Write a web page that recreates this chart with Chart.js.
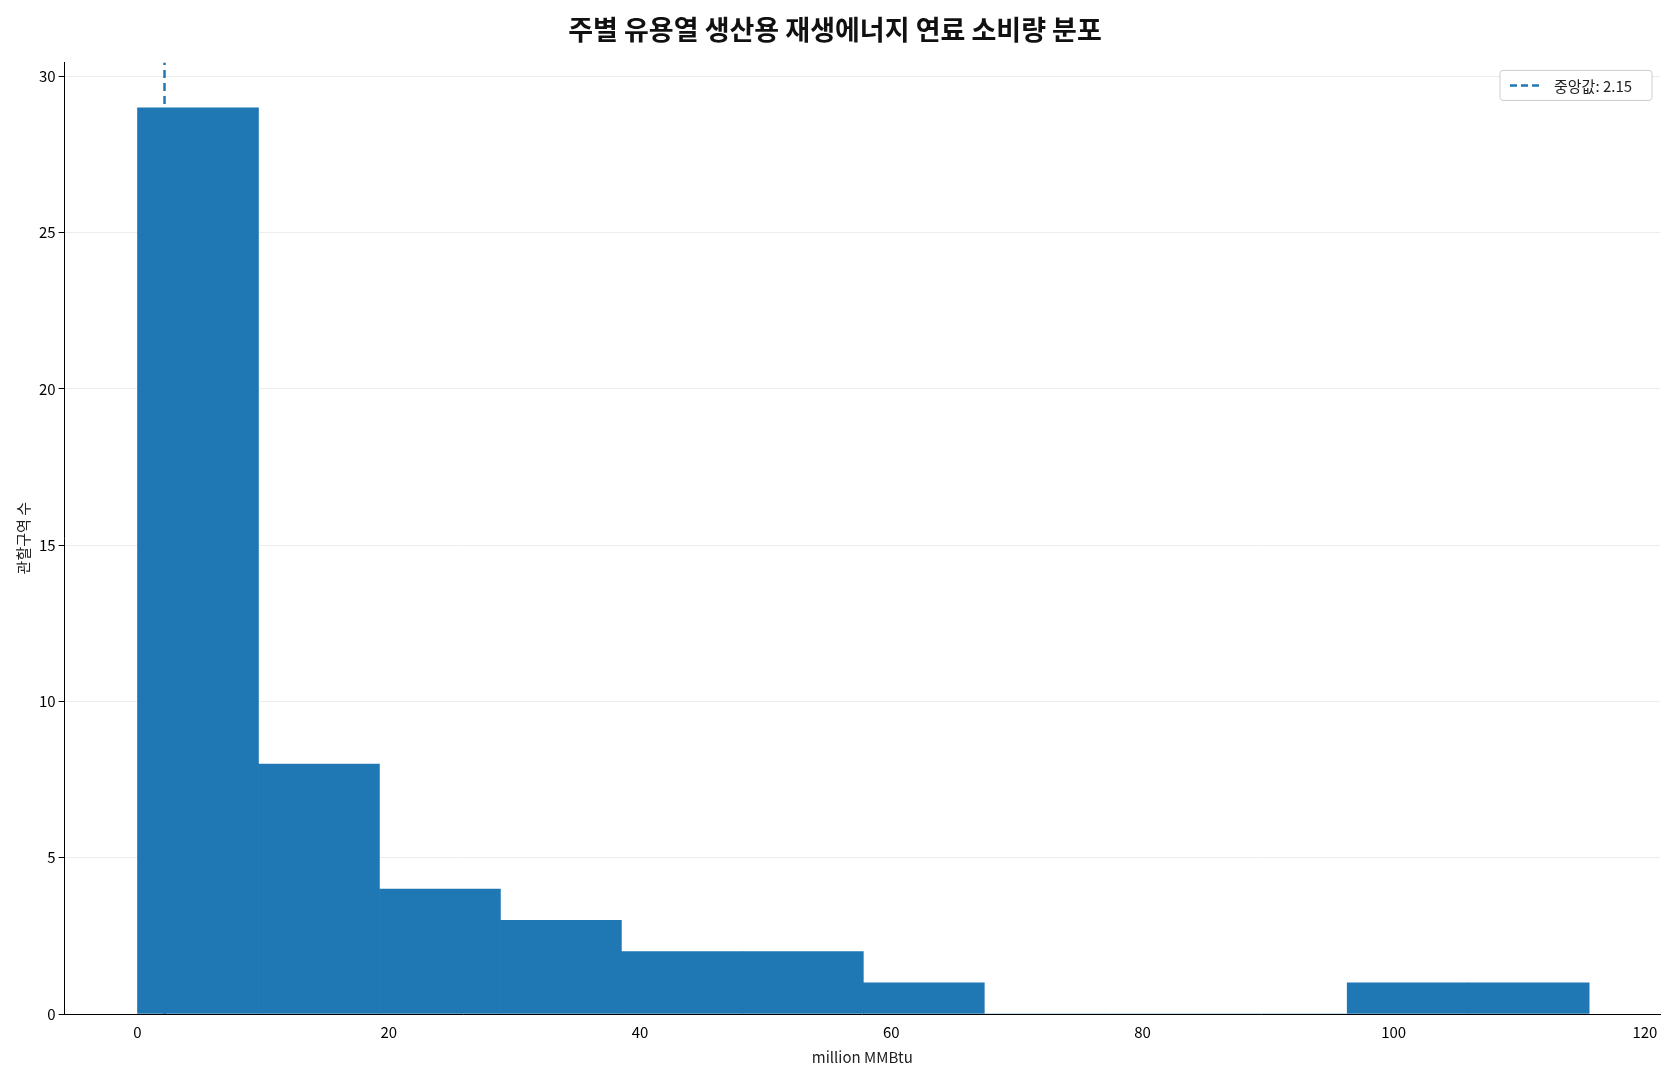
<!DOCTYPE html>
<html><head><meta charset="utf-8">
<script src="https://cdn.jsdelivr.net/npm/chart.js@4/dist/chart.umd.min.js"></script>
<style>html,body{margin:0;background:#fff}#w{width:1680px;height:1080px}</style>
</head><body><div id="w"><canvas id="c"></canvas></div>
<script>
const binEdges=[0,9.63,19.26,28.89,38.52,48.15,57.78,67.41,77.04,86.67,96.3,105.93,115.56];
const counts=[29,8,4,3,2,2,1,0,0,0,1,1];
const medianValue=2.15;
const titleText='주별 유용열 생산용 재생에너지 연료 소비량 분포';
const xLabel='million MMBtu';
const yLabel='관할구역 수';
const FONT='"Noto Sans CJK KR","Noto Sans",sans-serif';
const barData=counts.map((c,i)=>({x:(binEdges[i]+binEdges[i+1])/2,y:c}));
const legendPlugin={id:'lg',afterDraw(ch){const a=ch.chartArea,x=ctx=>0;const c=ch.ctx;const w=152,h=30,x0=a.right-w-8,y0=a.top+8;
c.save();c.fillStyle='rgba(255,255,255,0.9)';c.strokeStyle='#ccc';c.lineWidth=1;c.beginPath();c.roundRect(x0,y0,w,h,3);c.fill();c.stroke();
c.strokeStyle='#1f77b4';c.lineWidth=2.5;c.setLineDash([7,4]);c.beginPath();c.moveTo(x0+10,y0+h/2);c.lineTo(x0+40,y0+h/2);c.stroke();c.setLineDash([]);
c.fillStyle='#222';c.font='15px '+FONT;c.textBaseline='middle';c.fillText('중앙값: '+medianValue,x0+54,y0+h/2+1);c.restore();}};
new Chart(document.getElementById('c'),{
 data:{datasets:[
  {type:'bar',data:barData,backgroundColor:'#1f77b4',barPercentage:1,categoryPercentage:1,grouped:false,order:1},
  {type:'line',data:[{x:medianValue,y:0},{x:medianValue,y:30.45}],borderColor:'#1f77b4',borderWidth:2.5,borderDash:[8,5],pointRadius:0,order:2}
 ]},
 plugins:[legendPlugin],
 options:{responsive:true,maintainAspectRatio:false,animation:false,
  layout:{padding:{left:10,right:20,top:10,bottom:10}},
  plugins:{legend:{display:false},tooltip:{enabled:false},
   title:{display:true,text:titleText,font:{family:FONT,size:27},color:'#111',padding:{top:4,bottom:16}}},
  scales:{
   x:{type:'linear',min:-5.8,max:121.2,offset:false,
    afterBuildTicks(s){s.ticks=[0,20,40,60,80,100,120].map(v=>({value:v}));},
    grid:{display:false,drawTicks:true,tickLength:6,tickColor:'#000'},border:{color:'#000'},
    ticks:{font:{family:FONT,size:15},color:'#000'},
    title:{display:true,text:xLabel,font:{family:FONT,size:15},color:'#222'}},
   y:{min:0,max:30.45,
    afterBuildTicks(s){s.ticks=[0,5,10,15,20,25,30].map(v=>({value:v}));},
    grid:{color:'rgba(0,0,0,0.07)',tickLength:6,tickColor:'#000'},border:{color:'#000'},
    ticks:{font:{family:FONT,size:15},color:'#000'},
    title:{display:true,text:yLabel,font:{family:FONT,size:15},color:'#222'}}
  }}
});
</script></body></html>
